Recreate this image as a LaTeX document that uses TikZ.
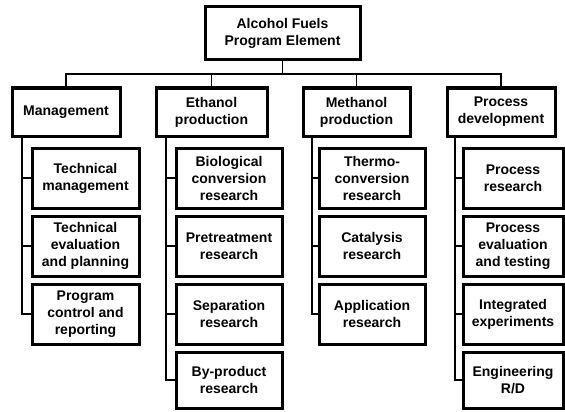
\documentclass[tikz,border=0pt]{standalone}
\usepackage{fontspec}
\setmainfont{Liberation Sans}
\usetikzlibrary{positioning,calc}
\tikzset{%
  node distance=8pt, % gap between the boxes of one column
  box/.style={draw, line width=3pt, outer sep=0pt, align=center, inner sep=2pt,
    font=\bfseries\fontsize{14}{17}\selectfont},
  unit/.style={box, minimum height=48pt},
  task/.style={box, minimum height=60pt},
  link/.style={draw, line width=1.6pt}
}

\begin{document}
\begin{tikzpicture}[x=1pt, y=-1pt]
  \useasboundingbox (0,0) rectangle (565,412);
  % head and the four branches
  \node[box, minimum width=155pt, minimum height=53pt] (fuels) at (282.5,33.5) {Alcohol Fuels\\Program Element};
  \node[unit, minimum width=108pt] (mgmt) at (66,112) {Management};
  \node[unit, minimum width=111pt] (eth) at (211.5,112) {Ethanol\\production};
  \node[unit, minimum width=107pt] (meth) at (356.5,112) {Methanol\\production};
  \node[unit, minimum width=108pt] (proc) at (501,112) {Process\\development};
  % Management column
  \node[task, minimum width=107pt, anchor=north west] (mgmt1) at (32,148) {Technical\\management};
  \node[task, minimum width=107pt, below=of mgmt1] (mgmt2) {Technical\\evaluation\\and planning};
  \node[task, minimum width=107pt, below=of mgmt2] (mgmt3) {Program\\control and\\reporting};
  % Ethanol column
  \node[task, minimum width=106pt, anchor=north west] (eth1) at (176,148) {Biological\\conversion\\research};
  \node[task, minimum width=106pt, below=of eth1] (eth2) {Pretreatment\\research};
  \node[task, minimum width=106pt, below=of eth2] (eth3) {Separation\\research};
  \node[task, minimum width=106pt, minimum height=56pt, below=of eth3] (eth4) {By-product\\research};
  % Methanol column
  \node[task, minimum width=106pt, anchor=north west] (meth1) at (319,148) {Thermo-\\conversion\\research};
  \node[task, minimum width=106pt, below=of meth1] (meth2) {Catalysis\\research};
  \node[task, minimum width=106pt, below=of meth2] (meth3) {Application\\research};
  % Process column
  \node[task, minimum width=100pt, anchor=north west] (proc1) at (463,148) {Process\\research};
  \node[task, minimum width=100pt, below=of proc1] (proc2) {Process\\evaluation\\and testing};
  \node[task, minimum width=100pt, below=of proc2] (proc3) {Integrated\\experiments};
  \node[task, minimum width=100pt, minimum height=56pt, below=of proc3] (proc4) {Engineering\\R/D};

  \coordinate (bus) at ($(fuels.south)+(0,14)$);
  \draw[link] (fuels.south) -- (bus);
  \draw[link] (mgmt.north) |- (bus) -| (proc.north);
  \draw[link] (eth.north) |- (bus);
  \draw[link] (meth.north) |- (bus);

  \foreach \k in {1,2,3} \draw[link] (mgmt\k.west) -| ($(mgmt.south west)+(10,0)$);
  \foreach \k in {1,2,3,4} \draw[link] (eth\k.west) -| ($(eth.south west)+(10,0)$);
  \foreach \k in {1,2,3} \draw[link] (meth\k.west) -| ($(meth.south west)+(9,0)$);
  \foreach \k in {1,2,3,4} \draw[link] (proc\k.west) -| ($(proc.south west)+(8,0)$);
\end{tikzpicture}
\end{document}
